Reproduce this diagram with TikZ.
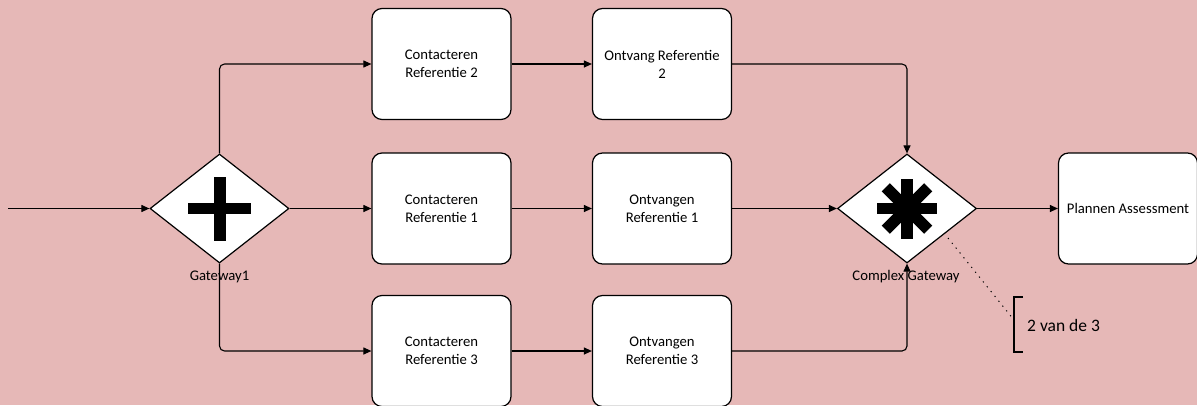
\documentclass[tikz,border=0pt]{standalone}
\usepackage{fontspec}
\setmainfont{Carlito}
\usetikzlibrary{shapes.geometric,arrows.meta}
\definecolor{bg}{RGB}{230,184,183}

\begin{document}
\begin{tikzpicture}[x=1pt,y=-1pt,
  task/.style={draw, fill=white, rounded corners=10pt, minimum width=139pt,
    minimum height=111pt, inner sep=2pt, align=center,
    font=\fontsize{14.7}{18}\selectfont, line width=1.2pt},
  gate/.style={draw, fill=white, diamond, minimum width=139pt,
    minimum height=109pt, inner sep=0pt, line width=1.2pt},
  flow/.style={line width=1.1pt, -{Triangle[length=8pt,width=7pt]}, rounded corners=5pt},
  lbl/.style={font=\fontsize{14.7}{18}\selectfont, inner sep=0pt},
  note/.style={font=\fontsize{17.5}{20}\selectfont, inner sep=0pt, anchor=west}]

  % canvas
  \fill[bg] (0,0) rectangle (1197,405);
  \useasboundingbox (0,0) rectangle (1197,405);

  % gateways
  \node[gate] (g1) at (219.5,208.5) {};
  \node[gate] (g2) at (907,208.5) {};

  % parallel marker
  \fill (g1.center) ++(-31.5,-5.5) rectangle ++(63,11);
  \fill (g1.center) ++(-6,-32) rectangle ++(12,64);

  % complex marker
  \begin{scope}[shift={(g2.center)}]
    \foreach \a in {0,45,90,135}
      \draw[line width=11.5pt, rotate=\a] (-30,0) -- (30,0);
  \end{scope}

  % tasks
  \node[task] (c2) at (441.5,64) {Contacteren\\Referentie 2};
  \node[task] (c1) at (441.5,208.5) {Contacteren\\Referentie 1};
  \node[task] (c3) at (441.5,351) {Contacteren\\Referentie 3};
  \node[task] (r2) at (662,64) {Ontvang Referentie\\2};
  \node[task] (r1) at (662,208.5) {Ontvangen\\Referentie 1};
  \node[task] (r3) at (662,351) {Ontvangen\\Referentie 3};
  \node[task] (pa) at (1128,208.5) {Plannen Assessment};

  % sequence flows
  \coordinate (start) at (8,208.5);
  \draw[flow] (start) -- (g1.west);
  \draw[flow] (g1.north) |- (c2.west);
  \draw[flow] (g1.east) -- (c1.west);
  \draw[flow] (g1.south) |- (c3.west);
  \draw[flow] (c2.east) -- (r2.west);
  \draw[flow] (c1.east) -- (r1.west);
  \draw[flow] (c3.east) -- (r3.west);
  \draw[flow] (r2.east) -| (g2.north);
  \draw[flow] (r1.east) -- (g2.west);
  \draw[flow] (r3.east) -| (g2.south);
  \draw[flow] (g2.east) -- (pa.west);

  % gateway names
  \node[lbl] (l1) at (219.5,277) {Gateway1};
  \node[lbl] (l2) at (906,277) {Complex Gateway};

  % annotation
  \coordinate (ga) at (948,238);
  \coordinate (bt) at (1023,297);
  \coordinate (bb) at (1023,352);
  \coordinate (bm) at (1014,320);
  \draw[line width=1.1pt] (bt) -- ++(-9,0) -- ++(0,55) -- (bb);
  \draw[line width=1pt, dash pattern=on 1.2pt off 5pt] (ga) -- (bm);
  \node[note] (txt) at (1027,325) {2 van de 3};
\end{tikzpicture}
\end{document}
